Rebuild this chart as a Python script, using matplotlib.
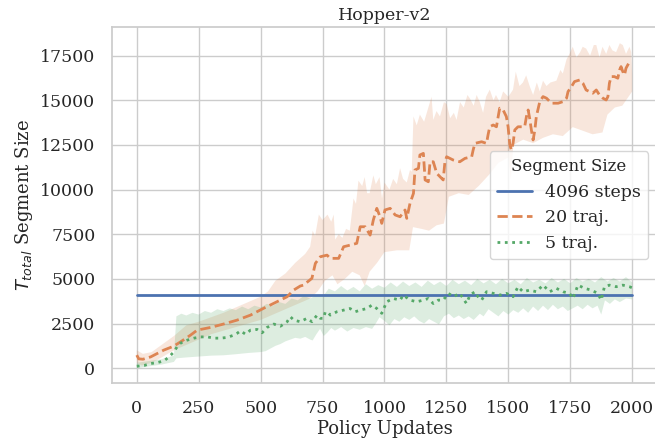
import numpy as np
import matplotlib
matplotlib.use('Agg')
import matplotlib.pyplot as plt
import seaborn as sns

# segment size over training, Hopper-v2
fixed_steps = 4096
fixed_x = [0, 2000]

traj20_x = [0, 8, 25, 56, 109, 149, 177, 217, 244, 298, 350, 405, 459, 511, 566, 607, 633, 660, 673,
            707, 721, 741, 768, 781, 815, 835, 861, 888, 902, 922, 942, 955, 969, 982, 989, 1002,
            1023, 1043, 1063, 1083, 1090, 1103, 1117, 1123, 1137, 1143, 1157, 1164, 1177, 1184,
            1197, 1211, 1237, 1244, 1251, 1277, 1304, 1325, 1352, 1358, 1365, 1392, 1412, 1418,
            1425, 1439, 1452, 1459, 1465, 1479, 1492, 1499, 1506, 1512, 1519, 1526, 1539, 1566,
            1573, 1580, 1586, 1593, 1600, 1607, 1613, 1627, 1640, 1654, 1674, 1701, 1721, 1735,
            1741, 1755, 1767, 1788, 1801, 1814, 1828, 1841, 1855, 1868, 1882, 1895, 1902, 1908,
            1915, 1928, 1942, 1949, 1955, 1962, 1969, 1975, 1986, 2000]
traj20_y = [730, 520, 500, 630, 1010, 1230, 1475, 1850, 2130, 2280, 2470, 2690, 2970, 3345, 3720,
            4000, 4370, 4600, 4650, 5030, 5870, 6240, 6330, 6150, 6150, 6800, 6890, 6990, 7920,
            7920, 7450, 8300, 8950, 8480, 8110, 8860, 8950, 8580, 8480, 8860, 8390, 9230, 9790,
            11100, 11190, 11940, 12030, 10540, 10440, 11560, 11560, 10910, 10540, 11560, 11840,
            11660, 11560, 11750, 11840, 12220, 12590, 12680, 12590, 13060, 13520, 13620, 13520,
            14090, 14560, 14460, 14090, 13520, 12500, 12220, 12590, 13340, 13520, 13520, 14090,
            14460, 14000, 13340, 12780, 13340, 14090, 14930, 15210, 15120, 14840, 14840, 14930,
            15120, 15490, 15770, 16050, 16140, 15960, 15580, 15490, 15400, 15580, 15300, 15120,
            15020, 15210, 15960, 16330, 16330, 16240, 16700, 16890, 16610, 16420, 16800, 17080,
            17000]

traj20_hi_x = [0, 25, 60, 110, 150, 200, 250, 300, 350, 400, 450, 500, 530, 560, 600, 640, 680,
               700, 710, 720, 735, 750, 770, 785, 795, 801, 815, 830, 845, 860, 875, 885, 895,
               910, 920, 930, 940, 955, 965, 980, 990, 1000, 1020, 1035, 1050, 1063, 1075, 1090,
               1103, 1110, 1117, 1130, 1143, 1160, 1175, 1190, 1197, 1210, 1224, 1240, 1251,
               1265, 1280, 1291, 1305, 1320, 1335, 1345, 1360, 1372, 1385, 1398, 1410, 1425,
               1440, 1450, 1465, 1479, 1500, 1519, 1530, 1545, 1559, 1572, 1586, 1600, 1615,
               1627, 1640, 1654, 1670, 1694, 1710, 1720, 1735, 1747, 1760, 1775, 1790, 1800,
               1814, 1830, 1845, 1855, 1868, 1880, 1895, 1908, 1920, 1935, 1950, 1962, 1975,
               1989, 1996, 2000]
traj20_hi_y = [1000, 800, 900, 1400, 1800, 2400, 2600, 2850, 3100, 3400, 3700, 4000, 4300, 4900,
               5300, 5900, 6400, 6800, 7700, 7400, 8600, 8300, 8600, 8200, 8600, 7200, 7500,
               7300, 7800, 7700, 9500, 9200, 10500, 10200, 10700, 9800, 9800, 10800, 10300,
               10700, 9500, 10400, 10000, 10600, 10300, 11200, 10600, 10400, 11100, 11000,
               14100, 13600, 14200, 13800, 14500, 15200, 13900, 14400, 14100, 14900, 14800,
               14000, 14300, 13900, 14900, 14600, 15300, 15100, 14700, 15300, 14900, 14300,
               15200, 15600, 15000, 15300, 14900, 15500, 15200, 15600, 16600, 15800, 16000,
               16400, 15800, 15300, 16000, 15500, 16100, 15800, 16000, 16100, 16700, 16500,
               17300, 17600, 18000, 17400, 17700, 18000, 17900, 17500, 18100, 18100, 17400,
               18000, 17600, 18100, 17800, 17700, 18200, 18100, 17600, 18000, 17700, 16400]

traj20_lo_x = [0, 20, 60, 100, 150, 200, 250, 300, 350, 400, 450, 500, 550, 600, 650, 700, 730,
               760, 790, 810, 840, 870, 900, 920, 940, 970, 1000, 1050, 1100, 1115, 1150, 1180,
               1210, 1240, 1260, 1300, 1340, 1380, 1420, 1460, 1500, 1510, 1520, 1560, 1600,
               1640, 1680, 1720, 1760, 1800, 1840, 1880, 1900, 1930, 1960, 2000]
traj20_lo_y = [300, 150, 300, 600, 1000, 1300, 1600, 1900, 2100, 2300, 2500, 2700, 3000, 3300,
               3600, 3900, 4300, 4900, 5200, 4700, 5000, 5400, 5200, 4600, 5400, 5900, 6500,
               6600, 6600, 7900, 7800, 7700, 8000, 8100, 9600, 9800, 9700, 10200, 10800, 11500,
               11800, 10600, 12500, 12800, 12600, 12900, 13100, 13000, 13500, 13300, 13100,
               13200, 14200, 14600, 14700, 15500]

traj5_x = [0, 30, 56, 80, 110, 130, 150, 165, 177, 190, 204, 231, 258, 285, 312, 338, 365, 392,
           405, 419, 439, 459, 486, 506, 526, 553, 580, 607, 620, 634, 660, 687, 707, 728, 741,
           754, 761, 775, 781, 808, 835, 861, 882, 902, 929, 949, 969, 989, 1009, 1036, 1063,
           1076, 1103, 1130, 1157, 1177, 1197, 1217, 1237, 1258, 1278, 1304, 1331, 1345, 1365,
           1372, 1392, 1412, 1439, 1465, 1492, 1519, 1539, 1559, 1586, 1613, 1640, 1667, 1694,
           1721, 1747, 1761, 1781, 1808, 1835, 1861, 1875, 1888, 1908, 1935, 1962, 1989, 2000]
traj5_y = [110, 150, 260, 300, 410, 630, 910, 1250, 1400, 1500, 1570, 1680, 1750, 1750, 1680,
           1680, 1720, 1850, 1950, 2090, 1900, 2130, 2170, 1980, 2280, 2470, 2350, 2600, 2880,
           2690, 2600, 2790, 2600, 2970, 2790, 2790, 3160, 3070, 2970, 3160, 3250, 3340, 3160,
           3250, 3340, 3530, 3340, 3070, 3720, 3900, 3810, 4090, 3810, 3720, 3810, 3900, 3620,
           3810, 3810, 4190, 4000, 4190, 3620, 4090, 4280, 4090, 3810, 4280, 4190, 4090, 4190,
           4000, 4560, 4280, 4370, 4280, 4650, 4280, 4470, 4280, 4190, 3900, 4650, 4470, 4370,
           4190, 3810, 4560, 4650, 4560, 4650, 4560, 4500]

traj5_hi_x = [0, 100, 150, 160, 180, 200, 225, 250, 275, 300, 325, 350, 375, 400, 425, 450, 475,
              500, 525, 550, 575, 600, 625, 650, 675, 700, 725, 750, 775, 800, 825, 850, 875,
              900, 925, 950, 975, 1000, 1025, 1050, 1075, 1100, 1125, 1150, 1175, 1200, 1225,
              1250, 1275, 1300, 1325, 1350, 1375, 1400, 1425, 1450, 1475, 1500, 1525, 1550,
              1575, 1600, 1625, 1650, 1675, 1700, 1725, 1750, 1775, 1800, 1825, 1850, 1875,
              1900, 1925, 1950, 1975, 2000]
traj5_hi_y = [300, 500, 700, 2900, 3050, 2950, 3100, 3000, 3200, 3100, 3300, 3200, 3350, 3250,
              3450, 3300, 3500, 3400, 3600, 3500, 3700, 3600, 3900, 3800, 4050, 3900, 4100,
              4000, 4450, 4300, 4600, 4350, 4550, 4300, 4700, 4450, 4650, 4500, 4800, 4550,
              4850, 4600, 4800, 4550, 4900, 4650, 4850, 4600, 4950, 4700, 4900, 4650, 5000,
              4750, 4950, 4700, 5000, 4750, 4950, 4700, 5050, 4800, 4950, 4750, 5050, 4800,
              5000, 4750, 5050, 4850, 5000, 4800, 5100, 4850, 5050, 4850, 5100, 4800]

traj5_lo_x = [0, 100, 150, 160, 200, 250, 300, 350, 400, 450, 500, 520, 540, 560, 580, 600, 620,
              640, 660, 680, 700, 710, 725, 740, 755, 770, 785, 800, 825, 850, 875, 900, 925,
              950, 965, 980, 1000, 1020, 1040, 1060, 1080, 1100, 1120, 1140, 1160, 1180, 1200,
              1220, 1240, 1260, 1280, 1300, 1320, 1340, 1360, 1385, 1400, 1420, 1440, 1460,
              1480, 1500, 1520, 1540, 1560, 1580, 1600, 1620, 1640, 1660, 1680, 1700, 1720,
              1740, 1760, 1780, 1800, 1820, 1840, 1860, 1875, 1890, 1910, 1930, 1950, 1975, 2000]
traj5_lo_y = [0, 200, 350, 550, 600, 650, 700, 720, 780, 850, 900, 950, 1100, 1250, 1350, 1500,
              1600, 1700, 1650, 1750, 1600, 1550, 1900, 2200, 1800, 2000, 2250, 2100, 2300,
              2050, 2250, 2150, 2300, 2200, 2500, 2850, 2650, 2400, 2750, 2600, 2850, 2700,
              2900, 2650, 2500, 2750, 2600, 2450, 2900, 3050, 2800, 2950, 2750, 2900, 2700,
              3050, 2900, 3300, 3100, 2900, 3200, 3000, 3250, 3100, 3350, 3100, 3450, 3200,
              3500, 3250, 3550, 3300, 3450, 3200, 3350, 3500, 3300, 3550, 3350, 3500, 3000,
              3800, 3600, 3850, 3700, 3900, 3850]

sns.set_theme(style='whitegrid', font='serif')
plt.rcParams['font.family'] = ['DejaVu Serif']
plt.rcParams['xtick.labelsize'] = 12.5
plt.rcParams['ytick.labelsize'] = 12.5
plt.rcParams['axes.labelsize'] = 13
plt.rcParams['axes.titlesize'] = 12.5
plt.rcParams['legend.fontsize'] = 12.5
plt.rcParams['legend.title_fontsize'] = 12

pal = sns.color_palette('deep')
c_blue, c_orange, c_green = pal[0], pal[1], pal[2]

fig = plt.figure(figsize=(6.55, 4.45), dpi=100)
ax = fig.add_axes([0.171, 0.139, 0.832, 0.800])

ax.plot(fixed_x, [fixed_steps, fixed_steps], color=c_blue, lw=2, label='4096 steps')

ax.fill(traj20_hi_x + traj20_lo_x[::-1], traj20_hi_y + traj20_lo_y[::-1],
        color=c_orange, alpha=0.2, lw=0)
ax.plot(traj20_x, traj20_y, color=c_orange, lw=2, ls='--', label='20 traj.')

ax.fill(traj5_hi_x + traj5_lo_x[::-1], traj5_hi_y + traj5_lo_y[::-1],
        color=c_green, alpha=0.2, lw=0)
ax.plot(traj5_x, traj5_y, color=c_green, lw=2, ls=':', label='5 traj.')

ax.set_xlim(-100, 2100)
ax.set_ylim(-840, 19100)
ax.set_xticks(np.arange(0, 2001, 250))
ax.set_yticks(np.arange(0, 17501, 2500))
ax.tick_params(axis='both', pad=6)

ax.set_xlabel('Policy Updates', labelpad=2)
ax.set_ylabel(r'$T_{total}$ Segment Size')
ax.set_title('Hopper-v2', pad=5)
ax.legend(title='Segment Size', loc='center right')

fig.savefig('out.png', dpi=100)
